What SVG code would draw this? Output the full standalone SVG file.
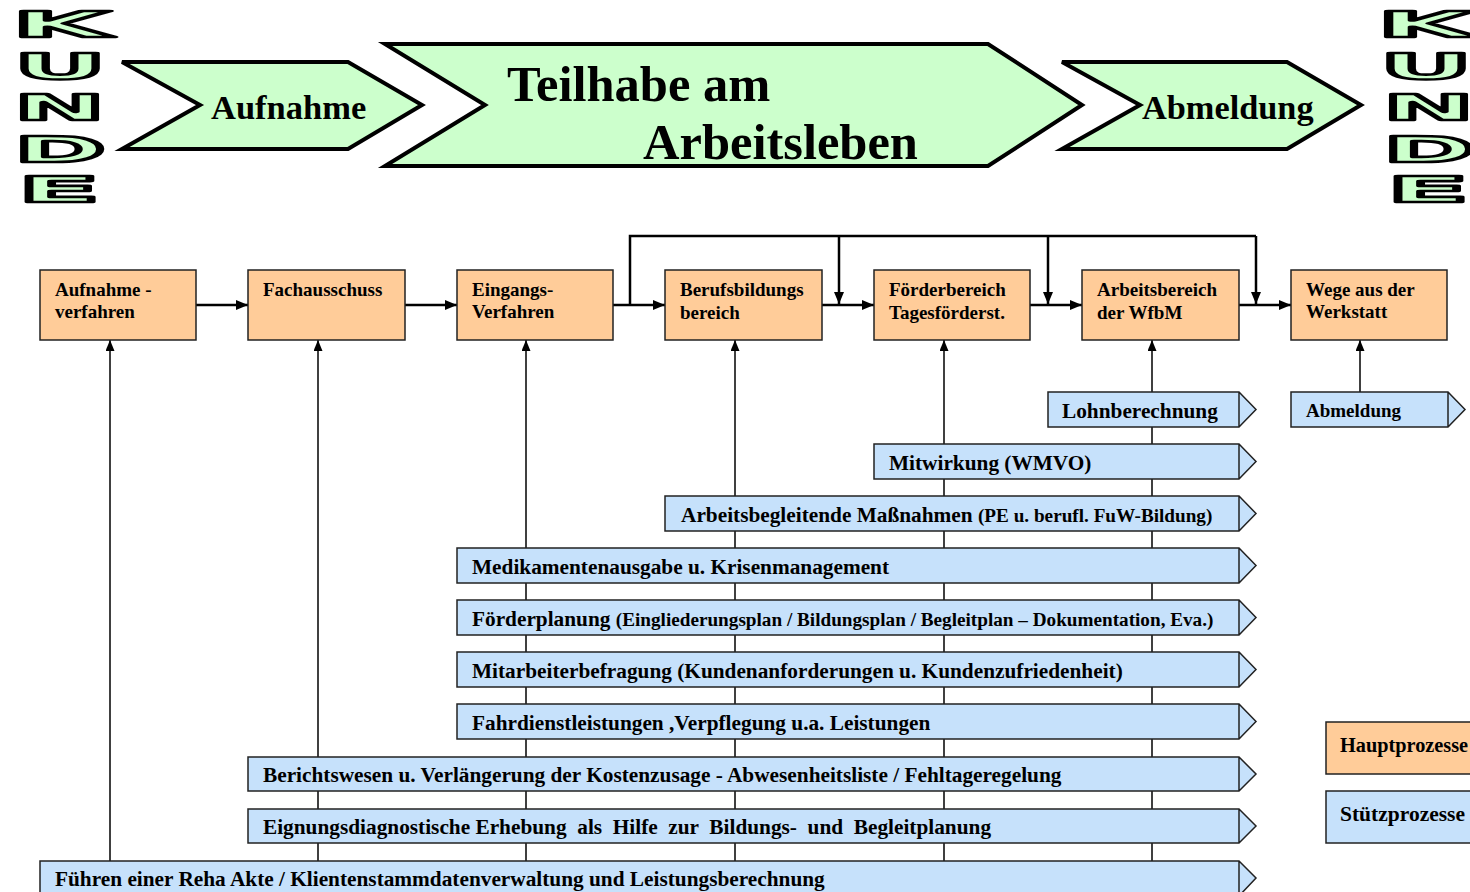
<svg xmlns="http://www.w3.org/2000/svg" width="1470" height="892" viewBox="0 0 1470 892">
<style>
.chev{fill:#CCFFCC;stroke:#000;stroke-width:4;stroke-linejoin:miter}
.kunde{font-family:"DejaVu Sans",sans-serif;font-weight:bold;font-size:35px;fill:#CCFFCC;stroke:#000;stroke-width:2.6;stroke-linejoin:round}
.big{font-family:"Liberation Serif",serif;font-weight:bold;fill:#000}
.main{fill:#FFCC99;stroke:#222;stroke-width:1.5}
.sup{fill:#C6E1FB;stroke:#222;stroke-width:1.5;stroke-linejoin:miter}
.t19{font-family:"Liberation Serif",serif;font-weight:bold;font-size:19px;fill:#000}
.t20{font-family:"Liberation Serif",serif;font-weight:bold;font-size:21.3px;fill:#000;white-space:pre}
.s17{font-size:19.2px}
.leg{font-family:"Liberation Serif",serif;font-weight:bold;fill:#000}
.thick{stroke:#000;stroke-width:2.5;fill:none}
.thin{stroke:#000;stroke-width:1.5;fill:none}
</style>
<defs>
<marker id="ah" markerUnits="userSpaceOnUse" markerWidth="12" markerHeight="10" refX="12" refY="5" orient="auto">
<path d="M0,0 L12,5 L0,10 Z" fill="#000"/>
</marker>
<marker id="ahs" markerUnits="userSpaceOnUse" markerWidth="11" markerHeight="9" refX="11" refY="4.5" orient="auto">
<path d="M0,0 L11,4.5 L0,9 Z" fill="#000"/>
</marker>
</defs>
<rect width="1470" height="892" fill="#fff"/>

<g id="kunde-left">
<text class="kunde"><tspan x="12" y="37" textLength="98" lengthAdjust="spacingAndGlyphs">K</tspan><tspan x="14" y="79" textLength="92" lengthAdjust="spacingAndGlyphs">U</tspan><tspan x="14" y="120" textLength="91" lengthAdjust="spacingAndGlyphs">N</tspan><tspan x="14" y="162" textLength="92" lengthAdjust="spacingAndGlyphs">D</tspan><tspan x="18" y="202" textLength="82" lengthAdjust="spacingAndGlyphs">E</tspan></text>
</g>
<g id="kunde-right">
<text class="kunde"><tspan x="1377" y="37" textLength="98" lengthAdjust="spacingAndGlyphs">K</tspan><tspan x="1380" y="79" textLength="92" lengthAdjust="spacingAndGlyphs">U</tspan><tspan x="1383" y="120" textLength="91" lengthAdjust="spacingAndGlyphs">N</tspan><tspan x="1383" y="162" textLength="92" lengthAdjust="spacingAndGlyphs">D</tspan><tspan x="1387" y="202" textLength="82" lengthAdjust="spacingAndGlyphs">E</tspan></text>
</g>

<g id="phase-aufnahme">
<path class="chev" d="M122,62 H348 L422,105 L348,149 H122 L200,105 Z"/>
<text class="big" x="211" y="119" font-size="34.5">Aufnahme</text>
</g>
<g id="phase-teilhabe">
<path class="chev" d="M385,44 H988 L1082,105 L988,166 H385 L485,105 Z"/>
<text class="big" x="507" y="101" font-size="50.5">Teilhabe am</text>
<text class="big" x="643" y="159" font-size="50.5">Arbeitsleben</text>
</g>
<g id="phase-abmeldung">
<path class="chev" d="M1062,62 H1287 L1361,105 L1287,149 H1062 L1140,105 Z"/>
<text class="big" x="1142" y="119" font-size="34.3">Abmeldung</text>
</g>

<g id="connectors">
<line class="thin" x1="110" y1="892" x2="110" y2="340" marker-end="url(#ahs)"/>
<line class="thin" x1="318" y1="892" x2="318" y2="340" marker-end="url(#ahs)"/>
<line class="thin" x1="526" y1="892" x2="526" y2="340" marker-end="url(#ahs)"/>
<line class="thin" x1="735" y1="892" x2="735" y2="340" marker-end="url(#ahs)"/>
<line class="thin" x1="944" y1="892" x2="944" y2="340" marker-end="url(#ahs)"/>
<line class="thin" x1="1152" y1="892" x2="1152" y2="340" marker-end="url(#ahs)"/>
<line class="thin" x1="1360" y1="392" x2="1360" y2="340" marker-end="url(#ahs)"/>
<line class="thick" x1="196" y1="305" x2="248" y2="305" marker-end="url(#ah)"/>
<line class="thick" x1="405" y1="305" x2="457" y2="305" marker-end="url(#ah)"/>
<line class="thick" x1="613" y1="305" x2="665" y2="305" marker-end="url(#ah)"/>
<line class="thick" x1="822" y1="305" x2="874" y2="305" marker-end="url(#ah)"/>
<line class="thick" x1="1030" y1="305" x2="1082" y2="305" marker-end="url(#ah)"/>
<line class="thick" x1="1239" y1="305" x2="1291" y2="305" marker-end="url(#ah)"/>
<path class="thick" d="M630,305 V236 H1256"/>
<line class="thick" x1="839" y1="236" x2="839" y2="304" marker-end="url(#ah)"/>
<line class="thick" x1="1048" y1="236" x2="1048" y2="304" marker-end="url(#ah)"/>
<line class="thick" x1="1256" y1="236" x2="1256" y2="304" marker-end="url(#ah)"/>
</g>

<g id="main-aufnahmeverfahren">
<rect class="main" x="40" y="270" width="156" height="70"/>
<text class="t19" x="55" y="296">Aufnahme -</text>
<text class="t19" x="55" y="318">verfahren</text>
</g>
<g id="main-fachausschuss">
<rect class="main" x="248" y="270" width="157" height="70"/>
<text class="t19" x="263" y="296">Fachausschuss</text>
</g>
<g id="main-eingangsverfahren">
<rect class="main" x="457" y="270" width="156" height="70"/>
<text class="t19" x="472" y="296">Eingangs-</text>
<text class="t19" x="472" y="318">Verfahren</text>
</g>
<g id="main-berufsbildung">
<rect class="main" x="665" y="270" width="157" height="70"/>
<text class="t19" x="680" y="296">Berufsbildungs</text>
<text class="t19" x="680" y="319">bereich</text>
</g>
<g id="main-foerderbereich">
<rect class="main" x="874" y="270" width="156" height="70"/>
<text class="t19" x="889" y="296">Förderbereich</text>
<text class="t19" x="889" y="319">Tagesförderst.</text>
</g>
<g id="main-arbeitsbereich">
<rect class="main" x="1082" y="270" width="157" height="70"/>
<text class="t19" x="1097" y="296">Arbeitsbereich</text>
<text class="t19" x="1097" y="319">der WfbM</text>
</g>
<g id="main-wege">
<rect class="main" x="1291" y="270" width="156" height="70"/>
<text class="t19" x="1306" y="296">Wege aus der</text>
<text class="t19" x="1306" y="318">Werkstatt</text>
</g>

<g id="sup-lohn">
<path class="sup" d="M1048,392 H1239 L1256,409.5 L1239,427 H1048 Z M1239,392 V427"/>
<text class="t20" x="1062" y="418">Lohnberechnung</text>
</g>
<g id="sup-abmeldung">
<path class="sup" d="M1291,392 H1448 L1465,409.5 L1448,427 H1291 Z M1448,392 V427"/>
<text class="t19" x="1306" y="417">Abmeldung</text>
</g>
<g id="sup-mitwirkung">
<path class="sup" d="M874,444 H1239 L1256,461.5 L1239,479 H874 Z M1239,444 V479"/>
<text class="t20" x="889" y="470">Mitwirkung (WMVO)</text>
</g>
<g id="sup-arbeitsbegleitend">
<path class="sup" d="M665,496 H1239 L1256,513.5 L1239,531 H665 Z M1239,496 V531"/>
<text class="t20" x="681" y="522">Arbeitsbegleitende Maßnahmen <tspan class="s17">(PE u. berufl. FuW-Bildung)</tspan></text>
</g>
<g id="sup-medikamente">
<path class="sup" d="M457,548 H1239 L1256,565.5 L1239,583 H457 Z M1239,548 V583"/>
<text class="t20" x="472" y="574">Medikamentenausgabe u. Krisenmanagement</text>
</g>
<g id="sup-foerderplanung">
<path class="sup" d="M457,600 H1239 L1256,617.5 L1239,635 H457 Z M1239,600 V635"/>
<text class="t20" x="472" y="626">Förderplanung <tspan class="s17">(Eingliederungsplan / Bildungsplan / Begleitplan – Dokumentation, Eva.)</tspan></text>
</g>
<g id="sup-mitarbeiterbefragung">
<path class="sup" d="M457,652 H1239 L1256,669.5 L1239,687 H457 Z M1239,652 V687"/>
<text class="t20" x="472" y="678">Mitarbeiterbefragung (Kundenanforderungen u. Kundenzufriedenheit)</text>
</g>
<g id="sup-fahrdienst">
<path class="sup" d="M457,704 H1239 L1256,721.5 L1239,739 H457 Z M1239,704 V739"/>
<text class="t20" x="472" y="730">Fahrdienstleistungen ,Verpflegung u.a. Leistungen</text>
</g>
<g id="sup-berichtswesen">
<path class="sup" d="M248,757 H1239 L1256,774 L1239,791 H248 Z M1239,757 V791"/>
<text class="t20" x="263" y="782">Berichtswesen u. Verlängerung der Kostenzusage - Abwesenheitsliste / Fehltageregelung</text>
</g>
<g id="sup-eignung">
<path class="sup" d="M248,809 H1239 L1256,826 L1239,843 H248 Z M1239,809 V843"/>
<text class="t20" x="263" y="834" xml:space="preserve">Eignungsdiagnostische Erhebung  als  Hilfe  zur  Bildungs-  und  Begleitplanung</text>
</g>
<g id="sup-rehaakte">
<path class="sup" d="M40,861 H1239 L1256,878 L1239,896 H40 Z M1239,861 V896"/>
<text class="t20" x="55" y="886">Führen einer Reha Akte / Klientenstammdatenverwaltung und Leistungsberechnung</text>
</g>

<g id="legend-haupt">
<rect class="main" x="1326" y="722" width="160" height="52"/>
<text class="leg" x="1340" y="752" font-size="20.3">Hauptprozesse</text>
</g>
<g id="legend-stuetz">
<rect class="sup" x="1326" y="791" width="160" height="52"/>
<text class="leg" x="1340" y="821" font-size="21.5">Stützprozesse</text>
</g>
</svg>
